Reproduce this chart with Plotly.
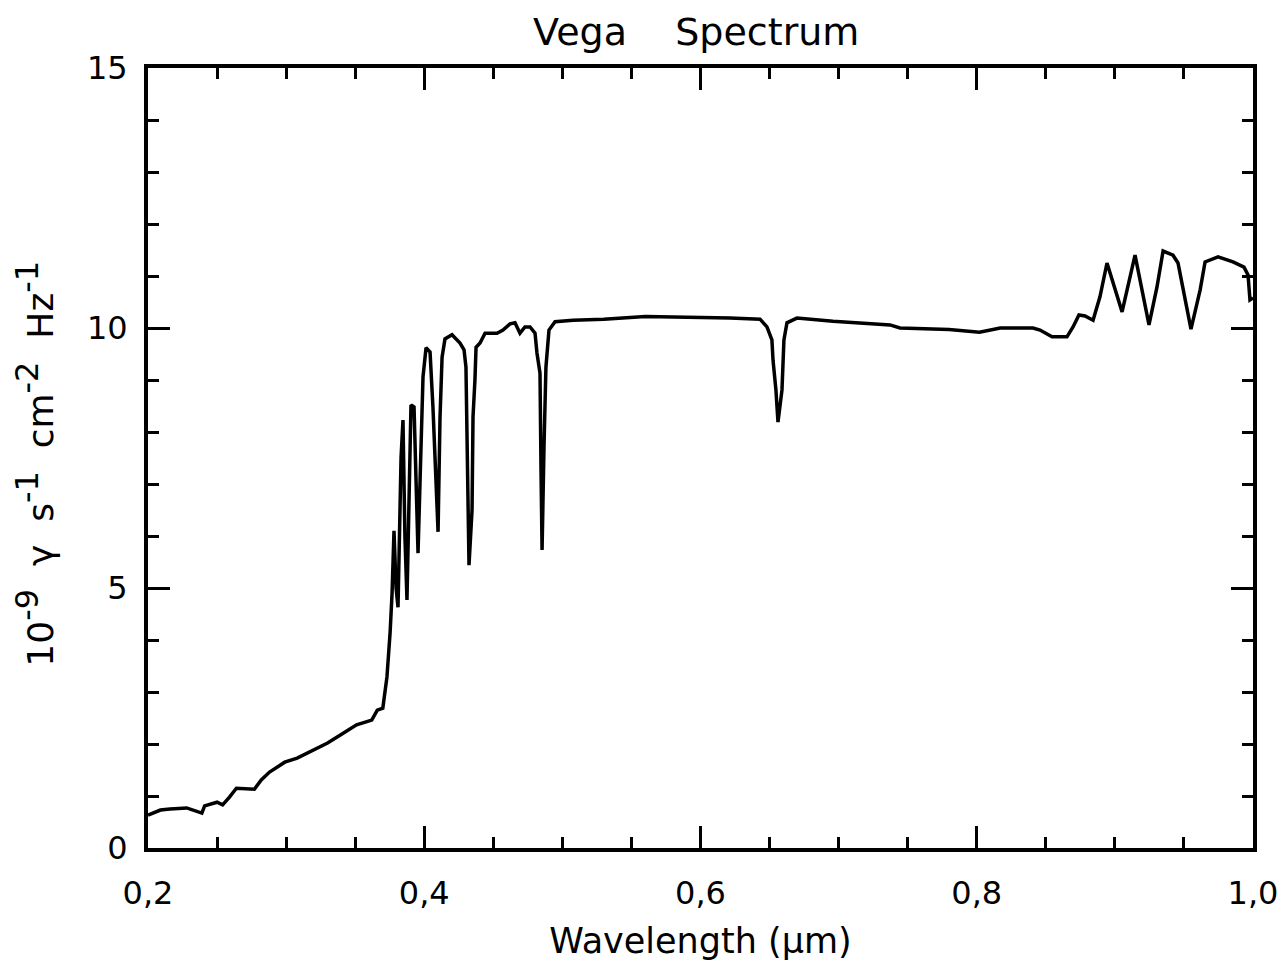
import plotly.graph_objects as go

# Wavelength (micron) and flux (1e-9 photons s^-1 cm^-2 Hz^-1)
wavelength = [
    0.200, 0.209, 0.216, 0.228, 0.239, 0.241, 0.250, 0.254, 0.259, 0.264,
    0.277, 0.282, 0.288, 0.299, 0.308, 0.320, 0.330, 0.339, 0.351, 0.362,
    0.366, 0.370, 0.373, 0.3753, 0.3767, 0.3781, 0.3796, 0.3810, 0.3832, 0.3846,
    0.3860, 0.3875, 0.3889, 0.3904, 0.3926, 0.3940, 0.3955, 0.3969, 0.3991, 0.4013,
    0.4042, 0.4063, 0.4078, 0.4100, 0.4114, 0.4129, 0.4150, 0.4201, 0.4259, 0.4288,
    0.4302, 0.4310, 0.4324, 0.4346, 0.4353, 0.4367, 0.4375, 0.4404, 0.4440, 0.4527,
    0.4570, 0.4621, 0.4657, 0.4693, 0.4729, 0.4766, 0.4802, 0.4816, 0.4838, 0.4845,
    0.4853, 0.4867, 0.4881, 0.4903, 0.4947, 0.5077, 0.5300, 0.5600, 0.5996, 0.6213,
    0.6431, 0.6481, 0.6517, 0.6525, 0.6546, 0.6561, 0.6590, 0.6604, 0.6626, 0.6698,
    0.6959, 0.7133, 0.7372, 0.7444, 0.7800, 0.8020, 0.8170, 0.8313, 0.8407, 0.8458,
    0.8545, 0.8653, 0.8697, 0.8740, 0.8784, 0.8842, 0.8892, 0.8943, 0.9052, 0.9146,
    0.9247, 0.9305, 0.9349, 0.9421, 0.9457, 0.9551, 0.9617, 0.9653, 0.9747, 0.9855,
    0.9935, 0.9964, 0.9978, 1.0000,
]
flux = [
    0.63, 0.73, 0.75, 0.77, 0.67, 0.81, 0.88, 0.83, 0.98, 1.15,
    1.13, 1.31, 1.46, 1.65, 1.73, 1.88, 2.02, 2.17, 2.37, 2.46,
    2.65, 2.69, 3.29, 4.15, 4.90, 6.10, 5.00, 4.63, 7.50, 8.23,
    6.00, 4.77, 7.00, 8.52, 8.48, 7.00, 5.67, 7.00, 9.06, 9.62,
    9.54, 8.48, 7.40, 6.08, 8.27, 9.44, 9.79, 9.87, 9.71, 9.58,
    9.25, 8.10, 5.44, 6.50, 8.29, 9.00, 9.63, 9.71, 9.90, 9.90,
    9.96, 10.08, 10.10, 9.90, 10.02, 10.02, 9.90, 9.52, 9.13, 7.33,
    5.73, 7.71, 9.25, 9.96, 10.12, 10.15, 10.17, 10.22, 10.21, 10.19,
    10.17, 10.02, 9.77, 9.38, 8.81, 8.19, 8.81, 9.77, 10.10, 10.19,
    10.13, 10.10, 10.06, 10.00, 9.97, 9.92, 10.00, 10.00, 10.00, 9.96,
    9.83, 9.83, 10.02, 10.25, 10.23, 10.15, 10.60, 11.25, 10.31, 11.40,
    10.06, 10.79, 11.48, 11.40, 11.25, 9.98, 10.73, 11.27, 11.37, 11.27,
    11.17, 11.02, 10.54, 10.58,
]

x_tickvals = [0.2, 0.4, 0.6, 0.8, 1.0]
x_ticktext = ["0,2", "0,4", "0,6", "0,8", "1,0"]
y_tickvals = [0, 5, 10, 15]
y_ticktext = ["0", "5", "10", "15"]

FONT = "DejaVu Sans"

fig = go.Figure()
fig.add_trace(go.Scatter(
    x=wavelength, y=flux, mode="lines",
    line=dict(color="black", width=3.5),
    showlegend=False, hoverinfo="skip",
))

axis_common = dict(
    showgrid=False, zeroline=False, automargin=False,
    showline=True, linecolor="black", linewidth=4,
    mirror="allticks", ticks="inside", tickcolor="black", tickwidth=3,
    tickfont=dict(family=FONT, size=32, color="black"),
)

sup = '<sup><span style="font-size:32px">{}</span></sup>'
ytitle = ("10" + sup.format("-9") + "&nbsp;&nbsp;γ&nbsp;&nbsp;s" + sup.format("-1")
          + "&nbsp;&nbsp;cm" + sup.format("-2") + "&nbsp;&nbsp;Hz" + sup.format("-1") + "&nbsp;")

fig.update_xaxes(
    range=[0.2, 1.0], tickvals=x_tickvals, ticktext=x_ticktext, ticklen=22,
    minor=dict(dtick=0.05, tick0=0.2, ticks="inside", ticklen=11, tickwidth=3, tickcolor="black"),
    title=dict(text="Wavelength (μm)", font=dict(family=FONT, size=35, color="black"), standoff=21),
    ticklabelstandoff=14,
    **axis_common,
)
fig.update_yaxes(
    range=[0, 15], tickvals=y_tickvals, ticktext=y_ticktext, ticklen=22,
    minor=dict(dtick=1, tick0=0, ticks="inside", ticklen=11, tickwidth=3, tickcolor="black"),
    title=dict(text=ytitle, font=dict(family=FONT, size=36, color="black"), standoff=24),
    ticklabelstandoff=10,
    **axis_common,
)

fig.update_layout(
    width=1271, height=953,
    margin=dict(l=140, r=26, t=60, b=113, pad=0),
    paper_bgcolor="white", plot_bgcolor="white",
    title=dict(text="Vega&nbsp;&nbsp;&nbsp;&nbsp;Spectrum", x=0.5415, xanchor="center", y=0.975,
               yanchor="middle", font=dict(family=FONT, size=38, color="black")),
)

fig.write_html("out.html")
